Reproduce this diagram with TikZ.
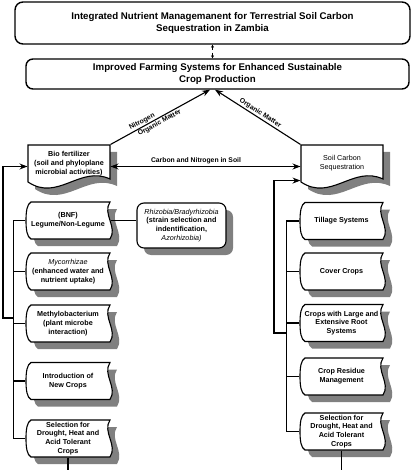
\documentclass[tikz,border=0pt]{standalone}
\usepackage{fontspec}
\setmainfont{Liberation Sans}
\usepackage{tikz}
\usetikzlibrary{arrows.meta,calc}
\definecolor{shadowgray}{rgb}{0.5,0.5,0.5}
\tikzset {>=Stealth}
\tikzset{
  boxtext/.style={align=center,inner sep=0pt,font=\fontsize{7.2}{8.8}\selectfont\bfseries},
  leftbox/.style={boxtext,minimum width=84pt,minimum height=37pt},
  rightbox/.style={boxtext,minimum width=83pt,minimum height=37pt},
  docbox/.style={boxtext,minimum width=82pt,minimum height=37pt},
  headbox/.style={draw,fill=white,line width=1.4pt,rounded corners=8pt,align=center,font=\fontsize{9.7}{12}\selectfont\bfseries},
  edgetext/.style={font=\fontsize{6.8}{8}\selectfont\bfseries,inner sep=1pt},
  dropshade/.style={fill=shadowgray,draw=none},
  shapeline/.style={draw=black,fill=white},
}
% centre, half width, half height, x offset, y offset
\newcommand{\tapepath}[5]{($(#1)+(-#2+5+#4,-#3+#5)$) .. controls +(-4,2) and +(0,-9) .. ($(#1)+(-#2+#4,#5)$) .. controls +(0,9) and +(-4,-2) .. ($(#1)+(-#2+5+#4,#3+#5)$) -- ($(#1)+(#2+#4,#3+#5)$) .. controls +(8,-12) and +(-8,12) .. ($(#1)+(#2+#4,-#3+#5)$) -- cycle}
\newcommand{\docpath}[5]{($(#1)+(#2+#4,-#3+#5)$) -- ($(#1)+(-#2+#4,-#3+#5)$) -- ($(#1)+(-#2+#4,#3+#5)$) .. controls +(30,20) and +(-30,-14) .. ($(#1)+(#2+#4,#3-3+#5)$) -- cycle}

\begin{document}
\begin{tikzpicture}[x=1pt,y=-1pt,line width=1.1pt]
\fill[white] (0,0) rectangle (412,470);
\useasboundingbox (0,0) rectangle (412,470);
\node[headbox,minimum width=395pt,minimum height=42pt] (goal) at (212.5,23) {Integrated Nutrient Managemanent for Terrestrial Soil Carbon\\Sequestration in Zambia};
\node[headbox,minimum width=383pt,minimum height=30pt,rounded corners=7pt] (farm) at (217.5,74) {Improved Farming Systems for Enhanced Sustainable\\Crop Production};

\coordinate (bioc) at (69,163.5);
\coordinate (soilc) at (342,163.5);
\coordinate (bnfc) at (68,220.5);
\coordinate (mycoc) at (68,271.5);
\coordinate (methyc) at (68,323.5);
\coordinate (introc) at (68,381);
\coordinate (selLc) at (68,438.5);
\coordinate (rhizc) at (181.5,225.5);
\coordinate (tillc) at (341.5,221);
\coordinate (coverc) at (341.5,271.5);
\coordinate (rootsc) at (341.5,323);
\coordinate (residc) at (341.5,376.5);
\coordinate (selRc) at (341.5,431.5);

\foreach \c in {bioc,soilc} {\fill[dropshade] \docpath{\c}{41}{18.5}{7}{7}; \draw[shapeline] \docpath{\c}{41}{18.5}{0}{0};}
\foreach \c/\w in {bnfc/42,mycoc/42,methyc/42,introc/42,selLc/42,tillc/41.5,coverc/41.5,rootsc/41.5,residc/41.5,selRc/41.5} {\fill[dropshade] \tapepath{\c}{\w}{18.5}{7}{7}; \draw[shapeline] \tapepath{\c}{\w}{18.5}{0}{0};}
\fill[dropshade,rounded corners=7pt] ($(rhizc)+(-37.5,-15.5)$) rectangle ($(rhizc)+(51.5,29.5)$);

\node[docbox] (bio) at (bioc) {Bio fertilizer\\(soil and phyloplane\\microbial activities)};
\node[docbox,font=\fontsize{7.2}{9}\selectfont] (soil) at (soilc) {Soil Carbon\\Sequestration};
\node[leftbox] (bnf) at (bnfc) {(BNF)\\Legume/Non-Legume};
\node[leftbox] (myco) at (mycoc) {\textmd{\textit{Mycorrhizae}}\\(enhanced water and\\nutrient uptake)};
\node[leftbox] (methy) at (methyc) {Methylobacterium\\(plant microbe\\interaction)};
\node[leftbox] (intro) at (introc) {Introduction of\\New Crops};
\node[leftbox] (selL) at (selLc) {Selection for\\Drought, Heat and\\Acid Tolerant\\Crops};
\node[boxtext,draw,fill=white,rounded corners=7pt,minimum width=89pt,minimum height=45pt] (rhiz) at (rhizc) {\textmd{\textit{Rhizobia/Bradyrhizobia}}\\(strain selection and\\indentification,\\\textmd{\textit{Azorhizobia)}}};
\node[rightbox] (till) at (tillc) {Tillage Systems};
\node[rightbox] (cover) at (coverc) {Cover Crops};
\node[rightbox] (roots) at (rootsc) {Crops with Large and\\Extensive Root\\Systems};
\node[rightbox] (resid) at (residc) {Crop Residue\\Management};
\node[rightbox] (selR) at (selRc) {Selection for\\Drought, Heat and\\Acid Tolerant\\Crops};

\draw[<->,dashed,line width=0.8pt,>={Stealth[length=3pt,width=3pt]}] (goal.south) -- (goal.south |- farm.north);
\coordinate (farmL) at ($(farm.south)+(-7.5,0)$);
\coordinate (farmR) at ($(farm.south)+(-2.5,0)$);
\draw[->] (bio.north east) -- (farmL) node[edgetext,sloped,above,pos=.34] {Nitrogen} node[edgetext,sloped,below,pos=.47] {Organic Matter};
\draw[->] (soil.north west) -- (farmR);
\path (farmR) -- (soil.north west) node[edgetext,sloped,above,pos=.5] {Organic Matter};
\draw[<->] ([yshift=-3pt]bio.east) -- ([yshift=-3pt]soil.west) node[edgetext,above,pos=.45,yshift=1.5pt] {Carbon and Nitrogen in Soil};
\draw (bnf.east) -- (bnf.east -| rhiz.west);

\coordinate (ljoin) at (3,318);
\draw (bnf.west) -- ++(-12,0) coordinate (lbus) |- (selL.west);
\foreach \n in {myco,methy,intro} \draw (\n.west) -- (\n.west -| lbus);
\draw[->] (ljoin -| lbus) -- (ljoin) |- ([yshift=-3pt]bio.west);
\draw (selL.south) -- ++(0,14);

\coordinate (rjoin) at (274,333);
\draw (till.west) -- ++(-13,0) coordinate (rbus) |- (selR.west);
\foreach \n in {cover,roots,resid} \draw (\n.west) -- (\n.west -| rbus);
\draw[->] (rjoin -| rbus) -- (rjoin) |- ([yshift=2pt]soil.south west);
\draw (selR.south) -- ++(0,20);
\end{tikzpicture}
\end{document}
